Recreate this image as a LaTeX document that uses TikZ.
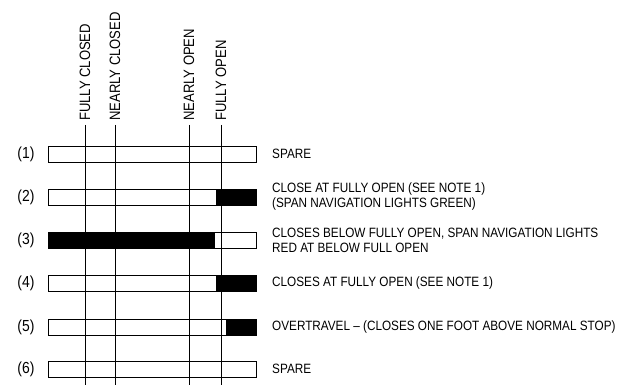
\documentclass[tikz,border=0pt]{standalone}
\usepackage{fontspec}
\setmainfont{Liberation Sans}[FakeStretch=0.87]
\usetikzlibrary{positioning}

\begin{document}
\begin{tikzpicture}[
    x=1pt, y=-1pt,
    every node/.style={font=\fontsize{13.5}{15}\selectfont, inner sep=0pt},
    poslabel/.style={rotate=90, anchor=west, font=\fontsize{15}{16}\selectfont},
    rowno/.style={anchor=center, font=\fontsize{16}{17}\selectfont},
    note/.style={anchor=west, align=left},
    bar/.style={draw, line width=0.7pt},
    dark/.style={fill=black},
    posline/.style={line width=0.6pt}
]
\useasboundingbox (0,0) rectangle (624,385);

% travel positions
\foreach \x/\t [count=\i] in {85/FULLY CLOSED, 115/NEARLY CLOSED, 189/NEARLY OPEN, 221/FULLY OPEN} {
  \node[poslabel] (pos\i) at (\x,121) {\t};
  \coordinate (top\i) at (\x,125);
  \coordinate (bot\i) at (\x,385);
  \draw[posline] (top\i) -- (bot\i);
}

% contacts
\foreach \n/\y in {1/154, 2/197, 3/240, 4/283, 5/327, 6/369} {
  \node[rowno] (no\n) at (26,\y) {(\n)};
  \coordinate (bl\n) at (48,\y-8);
  \coordinate (tr\n) at (256,\y+8);
}
\fill[dark] (216,189) rectangle (tr2);
\fill[dark] (bl3) rectangle (215,248);
\fill[dark] (216,275) rectangle (tr4);
\fill[dark] (226,319) rectangle (tr5);
\foreach \n in {1,...,6}
  \draw[bar] (bl\n) rectangle (tr\n);

\node[note] (txt1) at (272,154) {SPARE};
\node[note] (txt2) at (272,197) {CLOSE AT FULLY OPEN (SEE NOTE 1)\\(SPAN NAVIGATION LIGHTS GREEN)};
\node[note] (txt3) at (272,240) {CLOSES BELOW FULLY OPEN, SPAN NAVIGATION LIGHTS\\RED AT BELOW FULL OPEN};
\node[note] (txt4) at (272,283) {CLOSES AT FULLY OPEN (SEE NOTE 1)};
\node[note] (txt5) at (272,327) {OVERTRAVEL -- (CLOSES ONE FOOT ABOVE NORMAL STOP)};
\node[note] (txt6) at (272,369) {SPARE};
\end{tikzpicture}
\end{document}
